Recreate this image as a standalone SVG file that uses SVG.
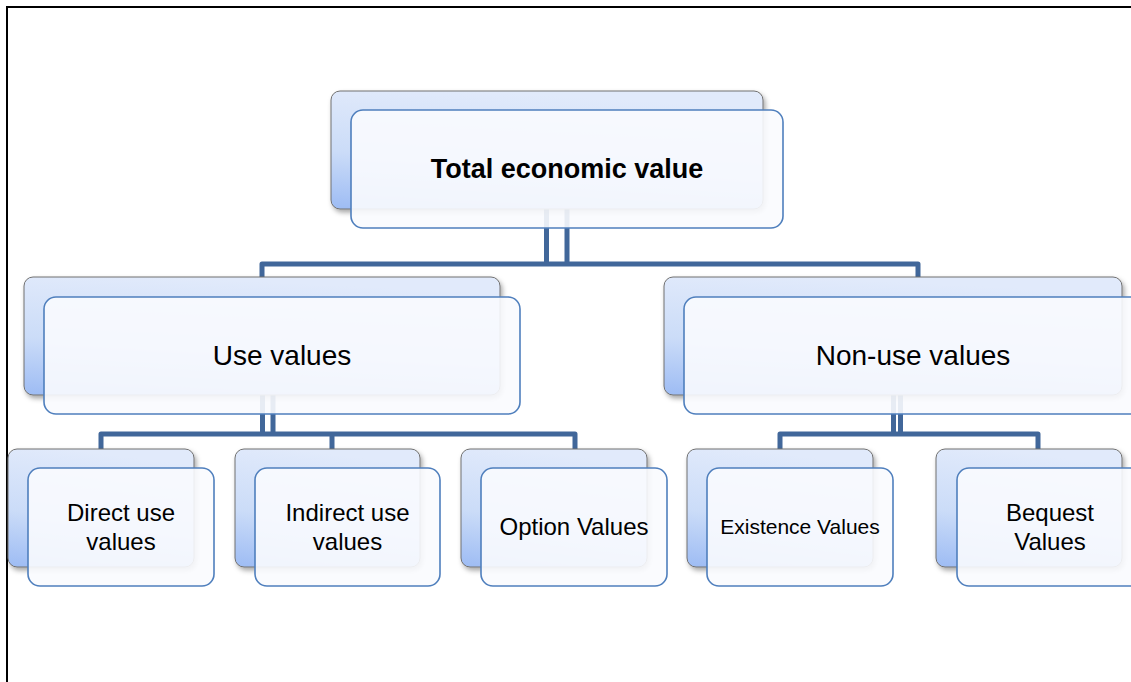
<svg xmlns="http://www.w3.org/2000/svg" width="1131" height="682" viewBox="0 0 1131 682">
  <defs>
    <linearGradient id="backFill" x1="0.3" y1="0" x2="0.1" y2="1">
      <stop offset="0" stop-color="#e1eafb"/>
      <stop offset="0.55" stop-color="#cbdcf8"/>
      <stop offset="1" stop-color="#9fbdf4"/>
    </linearGradient>
    <filter id="shadow" x="-10%" y="-10%" width="125%" height="130%">
      <feDropShadow dx="2" dy="3" stdDeviation="2.5" flood-color="#000" flood-opacity="0.35"/>
    </filter>
    <style>
      .back { fill: url(#backFill); stroke: #707070; stroke-width: 1; filter: url(#shadow); }
      .front { fill: #f9fbfe; fill-opacity: 0.9; stroke: #4f7fbd; stroke-width: 1.6; }
      .conn { fill: none; stroke: #41679a; stroke-width: 5; stroke-linejoin: round; }
      .lbl { font-family: "Liberation Sans", Arial, sans-serif; fill: #000; text-anchor: middle; }
      .l1 { font-size: 27px; font-weight: bold; }
      .l2 { font-size: 28px; }
      .l3 { font-size: 24px; }
    </style>
  </defs>

  <rect width="1131" height="682" fill="#fff"/>
  <!-- page frame -->
  <rect x="7" y="7" width="1140" height="690" fill="none" stroke="#000" stroke-width="2"/>

  <!-- connectors -->
  <g id="connectors">
    <path class="conn" d="M546.5 209 V264 M567 209 V264 M262 277 V264 H918 V277"/>
    <path class="conn" d="M262.5 395 V434 M273 395 V434 M101 449 V434 H575 V449 M332 434 V449"/>
    <path class="conn" d="M893.5 395 V434 M900.5 395 V434 M780 449 V434 H1038 V449"/>
  </g>

  <g id="total-economic-value">
    <rect class="back" x="331" y="91" width="432" height="118" rx="9"/>
    <rect class="front" x="351" y="110" width="432" height="118" rx="12"/>
    <text class="lbl l1" x="567" y="178">Total economic value</text>
  </g>

  <g id="use-values">
    <rect class="back" x="24" y="277" width="476" height="118" rx="9"/>
    <rect class="front" x="44" y="297" width="476" height="117" rx="12"/>
    <text class="lbl l2" x="282" y="365">Use values</text>
  </g>

  <g id="non-use-values">
    <rect class="back" x="664" y="277" width="458" height="118" rx="9"/>
    <rect class="front" x="684" y="297" width="476" height="117" rx="12"/>
    <text class="lbl l2" x="913" y="365">Non-use values</text>
  </g>

  <g id="direct-use-values">
    <rect class="back" x="8" y="449" width="186" height="118" rx="9"/>
    <rect class="front" x="28" y="468" width="186" height="118" rx="12"/>
    <text class="lbl l3" x="121" y="521">Direct use</text>
    <text class="lbl l3" x="121" y="550">values</text>
  </g>

  <g id="indirect-use-values">
    <rect class="back" x="235" y="449" width="185" height="118" rx="9"/>
    <rect class="front" x="255" y="468" width="185" height="118" rx="12"/>
    <text class="lbl l3" x="347.5" y="521">Indirect use</text>
    <text class="lbl l3" x="347.5" y="550">values</text>
  </g>

  <g id="option-values">
    <rect class="back" x="461" y="449" width="186" height="118" rx="9"/>
    <rect class="front" x="481" y="468" width="186" height="118" rx="12"/>
    <text class="lbl l3" x="574" y="535">Option Values</text>
  </g>

  <g id="existence-values">
    <rect class="back" x="687" y="449" width="186" height="118" rx="9"/>
    <rect class="front" x="707" y="468" width="186" height="118" rx="12"/>
    <text class="lbl" x="800" y="534" font-size="21">Existence Values</text>
  </g>

  <g id="bequest-values">
    <rect class="back" x="936" y="449" width="186" height="118" rx="9"/>
    <rect class="front" x="957" y="468" width="186" height="118" rx="12"/>
    <text class="lbl l3" x="1050" y="521">Bequest</text>
    <text class="lbl l3" x="1050" y="550">Values</text>
  </g>
</svg>
